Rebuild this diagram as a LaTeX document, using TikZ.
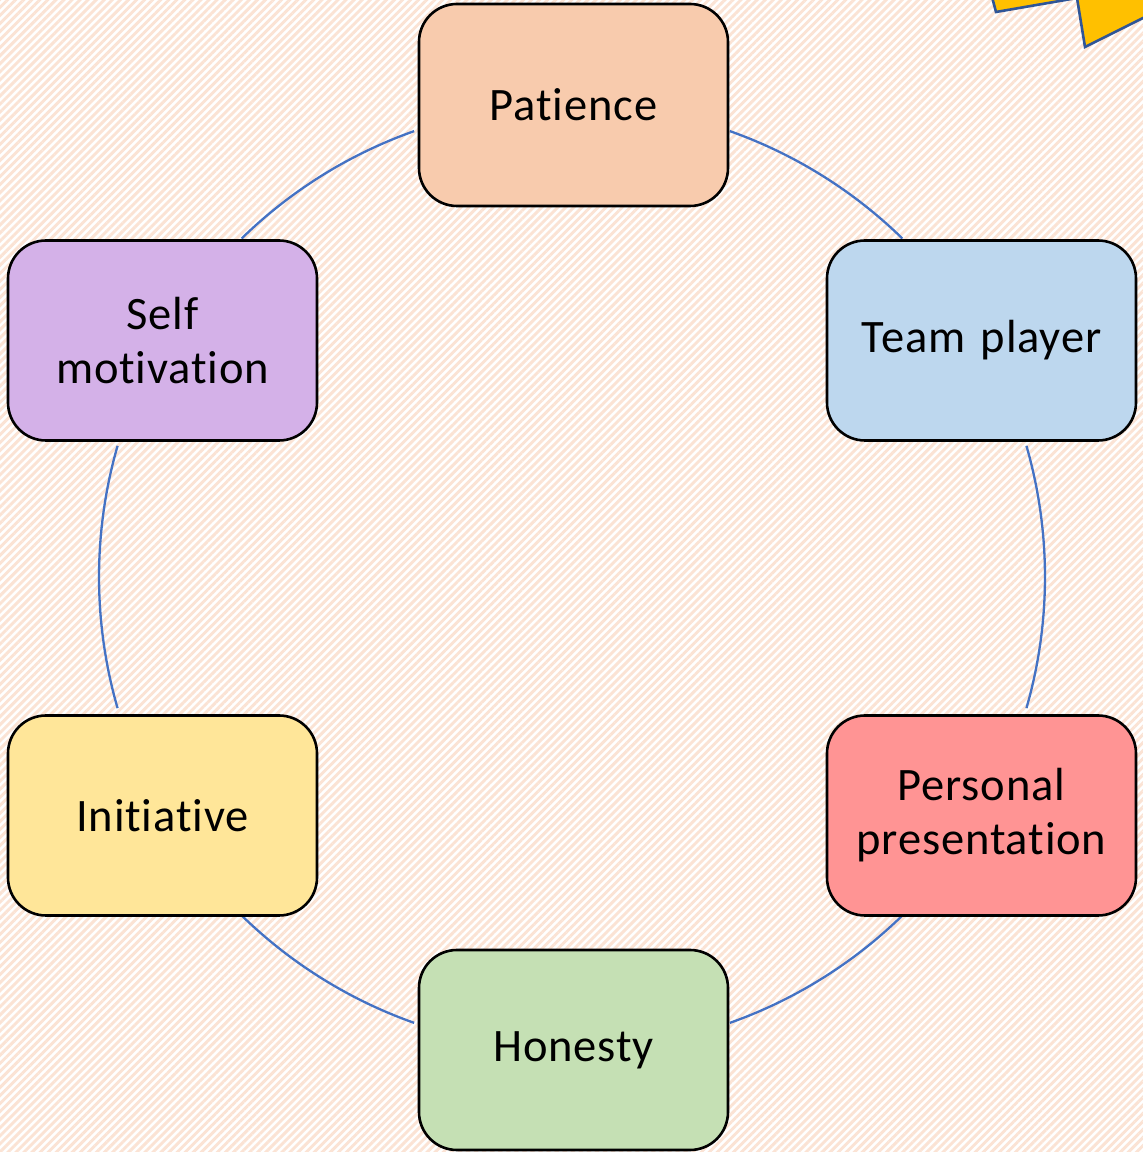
\documentclass[tikz,border=0pt]{standalone}
\usepackage{fontspec}
\setmainfont[Ligatures={NoCommon,NoRare,NoContextual},LetterSpace=1.8,WordSpace=0.45]{Carlito}
\usetikzlibrary{patterns.meta}

\definecolor{bgpeach}{HTML}{FBE3D4}
\definecolor{ringblue}{HTML}{4472C4}
\definecolor{starfill}{HTML}{FFC000}
\definecolor{starline}{HTML}{2F5597}
\definecolor{cPatience}{HTML}{F8CBAD}
\definecolor{cTeam}{HTML}{BDD7EE}
\definecolor{cSelf}{HTML}{D4B1E8}
\definecolor{cInit}{HTML}{FFE699}
\definecolor{cPers}{HTML}{FF9494}
\definecolor{cHon}{HTML}{C5E0B4}

\tikzset{
  skill/.style={draw=black, line width=2.6pt, rounded corners=38pt,
    minimum width=309pt, minimum height=200pt, inner sep=0pt,
    align=center, text width=300pt,
    font=\fontsize{46.5}{54}\selectfont},
  ring/.style={draw=ringblue, line width=2.3pt},
}

\begin{document}
\begin{tikzpicture}[x=1pt,y=1pt]
  % page and striped background
  \useasboundingbox (0,0) rectangle (1143,1152);
  \fill[white] (0,0) rectangle (1143,1152);
  \fill[pattern={Lines[angle=45,distance=5.7pt,line width=2.9pt]},
        pattern color=bgpeach] (0,0) rectangle (1143,1152);

  % star poking in at the top right corner
  \begin{scope}
    \clip (0,0) rectangle (1143,1152);
    \filldraw[fill=starfill, draw=starline, line width=2.6pt, line join=miter]
      (996,1140) -- (1077,1154) -- (1085,1105) -- (1175,1150)
      -- (1175,1200) -- (980,1200) -- cycle;
  \end{scope}

  % ring connecting the boxes
  \coordinate (ctr) at (572,575);
  \def\R{473}
  \draw[ring] (ctr) ++(70.5:\R) arc[start angle=70.5, end angle=45.7, radius=\R];
  \draw[ring] (ctr) ++(16.1:\R) arc[start angle=16.1, end angle=-16.1, radius=\R];
  \draw[ring] (ctr) ++(-45.7:\R) arc[start angle=-45.7, end angle=-70.5, radius=\R];
  \draw[ring] (ctr) ++(-109.5:\R) arc[start angle=-109.5, end angle=-134.3, radius=\R];
  \draw[ring] (ctr) ++(-163.9:\R) arc[start angle=-163.9, end angle=-196.1, radius=\R];
  \draw[ring] (ctr) ++(134.3:\R) arc[start angle=134.3, end angle=109.5, radius=\R];

  % skill boxes
  \node[skill, fill=cPatience, minimum height=202pt] (pat) at (573.5,1047) {Patience};
  \node[skill, fill=cTeam] (team) at (981.5,811.5) {Team player};
  \node[skill, fill=cPers] (pers) at (981.5,336.5) {Personal\\presentation};
  \node[skill, fill=cHon] (hon) at (573.5,102) {Honesty};
  \node[skill, fill=cInit] (init) at (162.5,336.5) {Initiative};
  \node[skill, fill=cSelf] (self) at (162.5,811.5) {Self\\motivation};
\end{tikzpicture}
\end{document}
